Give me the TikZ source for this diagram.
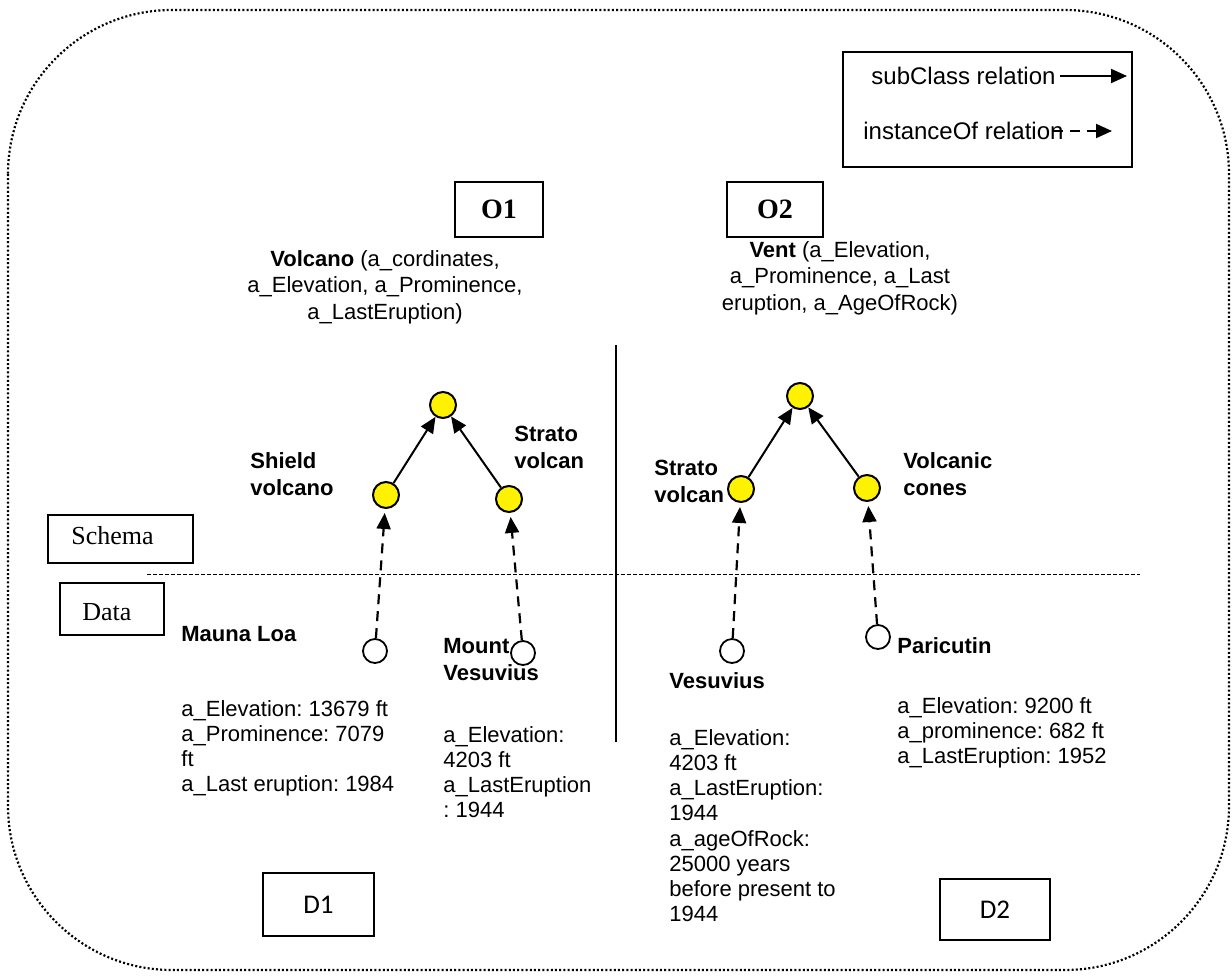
\documentclass[tikz,border=0pt]{standalone}
\usepackage{fontspec}
\setmainfont{Liberation Sans}
\newfontfamily\timesf{Liberation Serif}
\newfontfamily\calib{Carlito}
\usetikzlibrary{arrows.meta}
\frenchspacing
\begin{document}
\frenchspacing
\begin{tikzpicture}[x=0.5pt,y=-0.5pt,
 txt/.style={inner sep=0pt, font=\fontsize{11}{12.6}\selectfont, align=left, anchor=north west},
 btxt/.style={inner sep=0pt, font=\fontsize{11}{13.5}\selectfont\bfseries, align=left, anchor=north west},
 ycirc/.style={circle, draw, line width=1pt, fill=yellow, minimum size=13pt, inner sep=0pt},
 wcirc/.style={circle, draw, line width=0.9pt, fill=white, minimum size=12pt, inner sep=0pt},
 tip/.style={-{Triangle[length=8pt,width=7pt]}},
 sub/.style={line width=1pt, tip},
 inst/.style={line width=1.1pt, dash pattern=on 5pt off 3.5pt, tip, shorten >=2pt},
 box/.style={draw, line width=0.75pt, inner sep=0pt},
]
\useasboundingbox (0,0) rectangle (1232,976);
% outer frame
\draw[line width=1.1pt, dash pattern=on 1pt off 1.1pt, rounded corners=82pt] (8,10) rectangle (1229,970);

% legend
\node[box, minimum width=144.5pt, minimum height=57.5pt] (legend) at (987.5,109.5) {};
\node[inner sep=0pt, anchor=west, font=\fontsize{12}{14}\selectfont] (lsub) at (871,76) {subClass relation};
\node[inner sep=0pt, anchor=west, font=\fontsize{12}{14}\selectfont] (linst) at (863,131) {instanceOf relation};
\coordinate (ls1) at (1060,76);
\coordinate (ls2) at (1127,76);
\coordinate (li1) at (1053,131);
\coordinate (li2) at (1112,131);
\draw[sub] (ls1) -- (ls2);
\draw[line width=1pt, dash pattern=on 5pt off 3.5pt, tip] (li1) -- (li2);

% O boxes
\node[box, minimum width=44pt, minimum height=27.5pt, font=\fontsize{14}{16}\timesf\bfseries] (o1) at (499,209.5) {O1};
\node[box, minimum width=48pt, minimum height=27.5pt, font=\fontsize{14}{16}\timesf\bfseries] (o2) at (775,209.5) {O2};

% class descriptions
\node[inner sep=0pt, font=\fontsize{11}{13.3}\selectfont, align=center, anchor=north] (volcano) at (385,250)
 {\textbf{Volcano} (a\_cordinates,\\a\_Elevation, a\_Prominence,\\a\_LastEruption)};
\node[inner sep=0pt, font=\fontsize{11}{13.3}\selectfont, align=center, anchor=north] (vent) at (840,241)
 {\textbf{Vent} (a\_Elevation,\\a\_Prominence, a\_Last\\eruption, a\_AgeOfRock)};

% separators
\coordinate (vtop) at (616,345);
\coordinate (vbot) at (616,742);
\draw[line width=0.6pt] (vtop) -- (vbot);
\coordinate (hl) at (147,574);
\coordinate (hr) at (1140,574);
\draw[line width=0.5pt, dash pattern=on 2pt off 1pt] (hl) -- (hr);

% schema / data boxes
\node[box, minimum width=72.5pt, minimum height=24pt] (schema) at (120.5,539) {};
\node[inner sep=0pt, anchor=west, font=\fontsize{13}{15}\timesf] (schematxt) at (71,536) {Schema};
\node[box, minimum width=52pt, minimum height=26pt] (data) at (112,609) {};
\node[inner sep=0pt, anchor=west, font=\fontsize{13}{15}\timesf] (datatxt) at (82,612) {Data};

% O1 tree
\node[ycirc] (v1) at (443,405) {};
\node[ycirc] (s1) at (386,495) {};
\node[ycirc] (st1) at (509,499) {};
\draw[sub] (s1) -- (v1);
\draw[sub] (st1) -- (v1);
\node[btxt] (s1lab) at (250,452) {Shield\\volcano};
\node[btxt] (st1lab) at (514,426) {Strato\\volcan};

% O2 tree
\node[ycirc] (v2) at (800,396) {};
\node[ycirc] (st2) at (741,489) {};
\node[ycirc] (c2) at (867,488) {};
\draw[sub] (st2) -- (v2);
\draw[sub] (c2) -- (v2);
\node[btxt] (st2lab) at (654,460) {Strato\\volcan};
\node[btxt] (c2lab) at (903,452) {Volcanic\\cones};

% instances
\node[wcirc] (ml) at (375,651) {};
\node[wcirc] (mv) at (523,653) {};
\node[wcirc] (ve) at (732,651) {};
\node[wcirc] (pa) at (878,637) {};
\draw[inst] (ml) -- (s1);
\draw[inst] (mv) -- (st1);
\draw[inst] (ve) -- (st2);
\draw[inst] (pa) -- (c2);

% instance labels
\node[btxt] (mllab) at (181,626) {Mauna Loa};
\node[txt] (mldata) at (181,700) {a\_Elevation: 13679 ft\\a\_Prominence: 7079\\ft\\a\_Last eruption: 1984};
\node[btxt] (mvlab) at (443,638) {Mount\\Vesuvius};
\node[txt] (mvdata) at (443,726) {a\_Elevation:\\4203 ft\\a\_LastEruption\\: 1944};
\node[btxt] (velab) at (669,672) {Vesuvius};
\node[txt] (vedata) at (669,729) {a\_Elevation:\\4203 ft\\a\_LastEruption:\\1944\\a\_ageOfRock:\\25000 years\\before present to\\1944};
\node[btxt] (palab) at (897,637) {Paricutin};
\node[txt] (padata) at (897,697) {a\_Elevation: 9200 ft\\a\_prominence: 682 ft\\a\_LastEruption: 1952};

% D boxes
\node[box, minimum width=55.5pt, minimum height=31.5pt, font=\fontsize{13.5}{16}\calib] (d1) at (318.5,904.5) {D1};
\node[box, minimum width=55pt, minimum height=30.5pt, font=\fontsize{13.5}{16}\calib] (d2) at (995,909.5) {D2};
\end{tikzpicture}
\end{document}
